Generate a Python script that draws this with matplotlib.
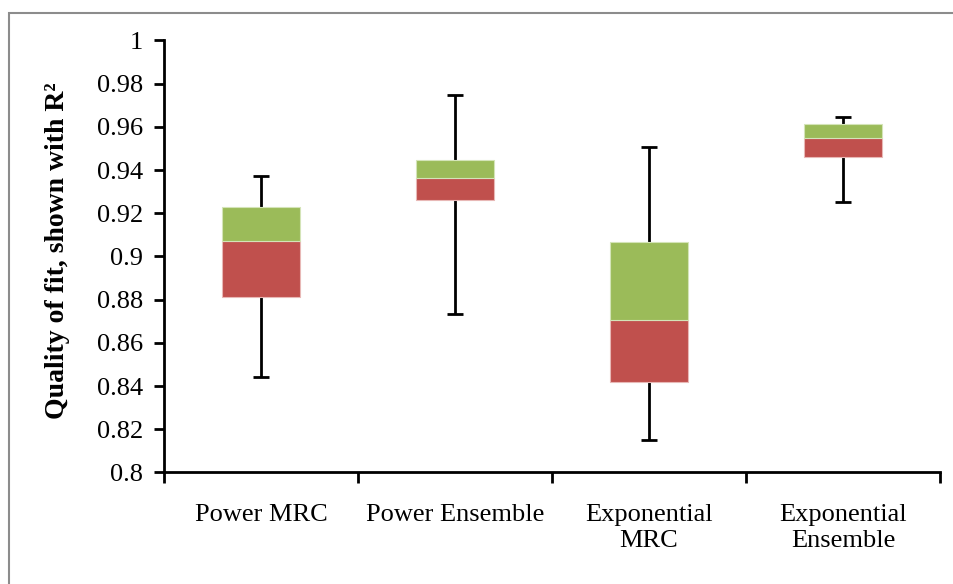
import matplotlib
matplotlib.use('Agg')
import matplotlib.pyplot as plt
from matplotlib.patches import Rectangle

# Box plot values
categories = ['Power MRC', 'Power Ensemble', 'Exponential\nMRC', 'Exponential\nEnsemble']
whisker_low = [0.844, 0.8735, 0.815, 0.925]
q1 = [0.881, 0.926, 0.842, 0.946]
median = [0.907, 0.9365, 0.8705, 0.955]
q3 = [0.923, 0.9445, 0.9068, 0.9613]
whisker_high = [0.937, 0.9745, 0.9505, 0.9645]
yticks = [0.8, 0.82, 0.84, 0.86, 0.88, 0.9, 0.92, 0.94, 0.96, 0.98, 1]

plt.rcParams['font.family'] = ['Liberation Serif', 'DejaVu Serif']

fig = plt.figure(figsize=(9.54, 5.84), dpi=100)
ax = fig.add_axes([0.1719, 0.1911, 0.8134, 0.7397])

x = list(range(len(categories)))

# Whiskers (drawn behind the boxes)
lower_err = [m - lo for m, lo in zip(median, whisker_low)]
upper_err = [hi - m for m, hi in zip(median, whisker_high)]
ax.errorbar(x, median, yerr=[lower_err, upper_err], fmt='none',
            ecolor='black', elinewidth=2, capsize=6, capthick=2, zorder=1)

# Lower box part (q1 -> median) red, upper box part (median -> q3) green
red_h = [m - a for m, a in zip(median, q1)]
green_h = [b - m for m, b in zip(median, q3)]
ax.bar(x, red_h, bottom=q1, width=0.4, color='#C0504D',
       edgecolor='#E8B8B6', linewidth=0.8, zorder=2)
ax.bar(x, green_h, bottom=median, width=0.4, color='#9BBB59',
       edgecolor='#D4E4B8', linewidth=0.8, zorder=2)

ax.set_xlim(-0.5, 3.5)
ax.set_ylim(0.8, 1.0)
ax.set_yticks(yticks)
ax.set_yticklabels([f'{t:g}' for t in yticks], fontsize=19)
ax.set_xticks(x)
ax.set_xticklabels(categories, fontsize=19, linespacing=1.2)
ax.set_xticks([-0.5, 0.5, 1.5, 2.5, 3.5], minor=True)
ax.tick_params(axis='x', which='major', length=0, pad=23)
ax.tick_params(axis='x', which='minor', length=8, width=2, direction='out')
ax.tick_params(axis='y', length=7, width=2, direction='out', pad=8)

for side in ['top', 'right']:
    ax.spines[side].set_visible(False)
for side in ['left', 'bottom']:
    ax.spines[side].set_linewidth(2)

ax.set_ylabel('Quality of fit, shown with R²', fontsize=20, fontweight='bold')
ax.yaxis.set_label_coords(-0.121, 0.5125)

# Chart area border
fig.add_artist(Rectangle((9.5 / 954, -0.1), 1.2, 1 - 13 / 584 + 0.1,
                         transform=fig.transFigure, fill=False,
                         edgecolor='#8c8c8c', linewidth=1.5))

fig.savefig('out.png', dpi=100)
